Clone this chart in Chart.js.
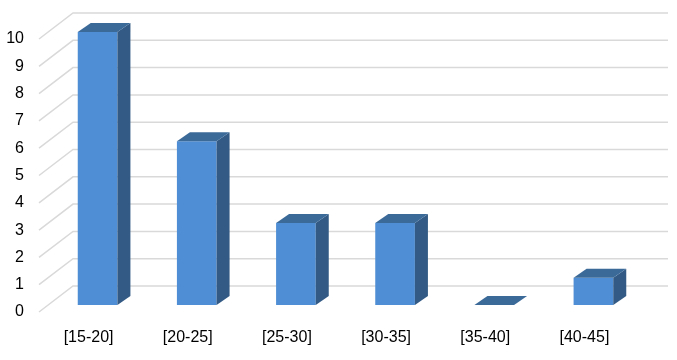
<!DOCTYPE html>
<html>
<head>
<meta charset="utf-8">
<script src="https://cdn.jsdelivr.net/npm/chart.js@4.4.0/dist/chart.umd.min.js"></script>
<style>
  html, body { margin: 0; padding: 0; background: #fff; }
  #wrap { width: 677px; height: 360px; }
</style>
</head>
<body>
<div id="wrap"><canvas id="myChart" width="677" height="360"></canvas></div>
<script>
let categories = ['[15-20]', '[20-25]', '[25-30]', '[30-35]', '[35-40]', '[40-45]'];
let counts = [10, 6, 3, 3, 0, 1];
let yMin = 0;
let yMax = 10;

// fake 3d: depth of the wall behind bars and of the bars themselves
const wallDx = 25, wallDy = -19;
const frontDx = -9, frontDy = 7;
const barDx = 13, barDy = -9;

const fake3d = {
    id: 'fake3d',
    beforeDatasetsDraw(chart) {
        const ctx = chart.ctx;
        const area = chart.chartArea;
        const y = chart.scales.y;
        ctx.save();
        ctx.strokeStyle = '#d9d9d9';
        ctx.lineWidth = 1.5;
        for (let v = yMin; v <= yMax; v++) {
            const py = y.getPixelForValue(v);
            ctx.beginPath();
            ctx.moveTo(area.left + frontDx, py + frontDy);
            ctx.lineTo(area.left + wallDx, py + wallDy);
            ctx.lineTo(area.right + wallDx, py + wallDy);
            ctx.stroke();
        }
        ctx.restore();
    },
    afterDatasetsDraw(chart) {
        const ctx = chart.ctx;
        const meta = chart.getDatasetMeta(0);
        ctx.save();
        meta.data.forEach((bar) => {
            const half = bar.width / 2;
            const x0 = bar.x - half, x1 = bar.x + half;
            const top = bar.y, bottom = bar.base;
            // side
            ctx.fillStyle = '#325a84';
            ctx.beginPath();
            ctx.moveTo(x1, top);
            ctx.lineTo(x1 + barDx, top + barDy);
            ctx.lineTo(x1 + barDx, bottom + barDy);
            ctx.lineTo(x1, bottom);
            ctx.closePath();
            ctx.fill();
            // top
            ctx.fillStyle = '#3b6a99';
            ctx.beginPath();
            ctx.moveTo(x0, top);
            ctx.lineTo(x1, top);
            ctx.lineTo(x1 + barDx, top + barDy);
            ctx.lineTo(x0 + barDx, top + barDy);
            ctx.closePath();
            ctx.fill();
        });
        ctx.restore();
    }
};

new Chart(document.getElementById('myChart'), {
    type: 'bar',
    data: {
        labels: categories,
        datasets: [{
            data: counts,
            backgroundColor: '#4f8ed4',
            borderWidth: 0,
            barPercentage: 0.4,
            categoryPercentage: 1
        }]
    },
    options: {
        responsive: false,
        animation: false,
        layout: { padding: { top: 32, right: 34, left: 0, bottom: 0 } },
        plugins: { legend: { display: false }, tooltip: { enabled: false } },
        scales: {
            x: {
                grid: { display: false },
                border: { display: false },
                ticks: {
                    color: '#000',
                    font: { family: 'Liberation Sans, Arial', size: 16 },
                    padding: 15,
                    labelOffset: -9,
                    maxRotation: 0
                },
                afterFit(scale) { scale.height = 55; }
            },
            y: {
                min: yMin,
                max: yMax,
                grid: { display: false },
                border: { display: false },
                ticks: {
                    stepSize: 1,
                    color: '#000',
                    font: { family: 'Liberation Sans, Arial', size: 16 },
                    padding: 16,
                    labelOffset: 7
                },
                afterFit(scale) { scale.width = 48; }
            }
        }
    },
    plugins: [fake3d]
});
</script>
</body>
</html>
